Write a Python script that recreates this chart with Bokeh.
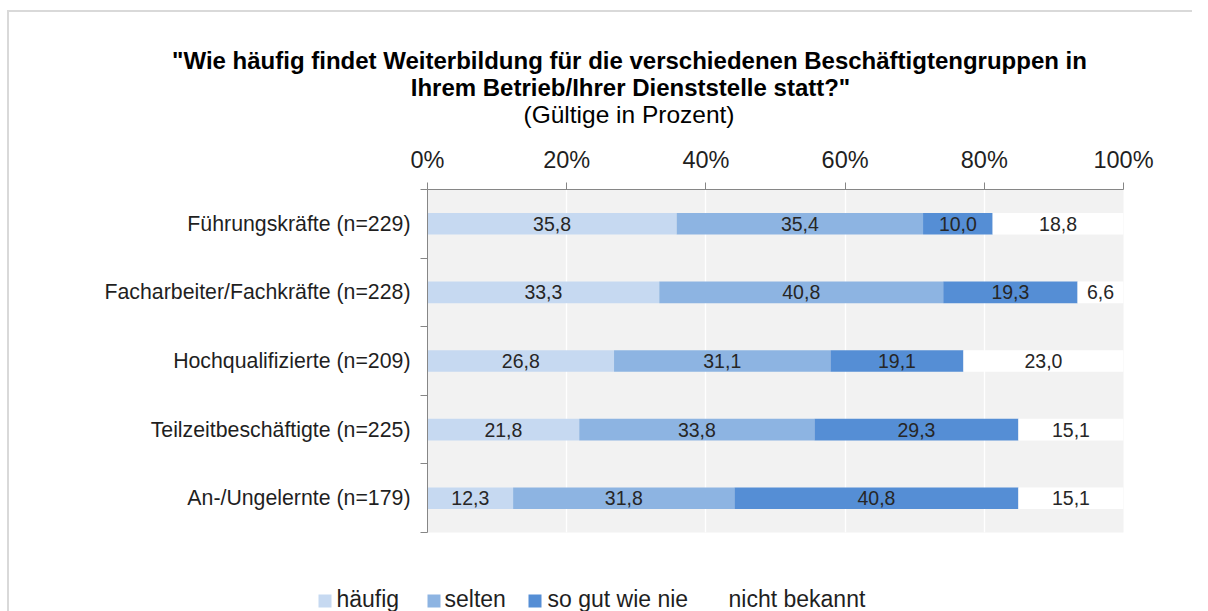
from bokeh.plotting import figure
from bokeh.layouts import column, row
from bokeh.models import Range1d, FixedTicker, PrintfTickFormatter, ColumnDataSource
from bokeh.embed import file_html
from bokeh.resources import INLINE
from bokeh.core.properties import value

# ---------------- data ----------------
categories = ["Führungskräfte (n=229)", "Facharbeiter/Fachkräfte (n=228)",
              "Hochqualifizierte (n=209)", "Teilzeitbeschäftigte (n=225)",
              "An-/Ungelernte (n=179)"]
haeufig = [35.8, 33.3, 26.8, 21.8, 12.3]
selten = [35.4, 40.8, 31.1, 33.8, 31.8]
gut_wie_nie = [10.0, 19.3, 19.1, 29.3, 40.8]
nicht_bekannt = [18.8, 6.6, 23.0, 15.1, 15.1]
series_names = ["häufig", "selten", "so gut wie nie", "nicht bekannt"]
x_ticks = [0, 20, 40, 60, 80, 100]

title_lines = ['"Wie häufig findet Weiterbildung für die verschiedenen Beschäftigtengruppen in',
               'Ihrem Betrieb/Ihrer Dienststelle statt?"']
subtitle = "(Gültige in Prozent)"

# ---------------- style ----------------
FONT = "Liberation Sans"
colors = ["#c6d9f1", "#8db4e2", "#558ed5", "#ffffff"]
text_color = "#1f1f1f"
frame_color = "#d9d9d9"
W = 1192
TITLE_H, MAIN_H, LEG_H = 140, 420, 51


def blank(width, height, xr, yr):
    f = figure(width=width, height=height, x_range=xr, y_range=yr,
               x_axis_type=None, y_axis_type=None, output_backend="svg",
               toolbar_location=None, min_border=0)
    f.outline_line_color = None
    f.grid.grid_line_color = None
    f.background_fill_color = None
    f.border_fill_color = None
    return f


# ---------------- title figure ----------------
pt = blank(W, TITLE_H, Range1d(0, W), Range1d(TITLE_H, 0))
pt.text(x=[629, 630, 628.5], y=[59.7, 87.2, 113.5], text=title_lines + [subtitle],
        text_align="center", text_baseline="middle", text_font=value(FONT),
        text_font_size=["24px", "24px", "24.5px"],
        text_font_style=["bold", "bold", "normal"], text_color="black")

# ---------------- main chart ----------------
series = [haeufig, selten, gut_wie_nie, nicht_bekannt]
ys = [i + 0.5 for i in range(len(categories))]

p = figure(width=W, height=MAIN_H, x_range=Range1d(0, 100),
           y_range=Range1d(len(categories), 0),
           x_axis_location="above", output_backend="svg", toolbar_location=None,
           min_border_left=427, min_border_right=69,
           min_border_top=49, min_border_bottom=28)
p.background_fill_color = "#f2f2f2"
p.border_fill_color = None
p.outline_line_color = None

left = [0.0] * len(categories)
for vals, col in zip(series, colors):
    right = [l + v for l, v in zip(left, vals)]
    src = ColumnDataSource(dict(
        y=ys, left=left, right=right,
        mid=[(l + r) / 2 for l, r in zip(left, right)],
        lab=[f"{v:.1f}".replace(".", ",") for v in vals]))
    p.hbar(y="y", left="left", right="right", height=0.315, source=src,
           fill_color=col, line_color=None)
    p.text(x="mid", y="y", text="lab", source=src, text_align="center",
           text_baseline="middle", text_font=value(FONT), text_font_size="19.5px",
           text_color="#262626")
    left = right

xa = p.xaxis[0]
xa.ticker = FixedTicker(ticks=x_ticks)
xa.formatter = PrintfTickFormatter(format="%d%%")
xa.major_label_text_font = FONT
xa.major_label_text_font_size = "23.5px"
xa.major_label_text_color = text_color
xa.axis_line_color = "#868686"
xa.major_tick_line_color = "#868686"
xa.major_tick_out = 7
xa.major_tick_in = 0
xa.minor_tick_line_color = None
xa.major_label_standoff = 10

ya = p.yaxis[0]
ya.ticker = FixedTicker(ticks=ys, minor_ticks=list(range(len(categories) + 1)))
ya.major_label_overrides = {y: c for y, c in zip(ys, categories)}
ya.major_label_text_font = FONT
ya.major_label_text_font_size = "21.3px"
ya.major_label_text_color = text_color
ya.axis_line_color = "#868686"
ya.major_tick_line_color = None
ya.major_tick_out = 0
ya.major_tick_in = 0
ya.minor_tick_line_color = "#868686"
ya.minor_tick_out = 7
ya.minor_tick_in = 0
ya.major_label_standoff = 10

p.xgrid.ticker = FixedTicker(ticks=x_ticks)
p.xgrid.grid_line_color = "white"
p.xgrid.grid_line_width = 1.3
p.ygrid.grid_line_color = None

# ---------------- legend figure ----------------
pl = blank(W, LEG_H, Range1d(0, W), Range1d(LEG_H, 0))
legend_glyph_x = [324.5, 433.5, 534.5, 718.5]   # square centres (layout)
legend_text_x = [336, 444, 547, 728]
pl.scatter(x=legend_glyph_x, y=[40.5] * 4, marker="square", size=13,
           fill_color=colors, line_color=None)
pl.text(x=legend_text_x, y=[38] * 4, text=series_names, text_align="left",
        text_baseline="middle", text_font=value(FONT), text_font_size="23px",
        text_color=text_color)

layout = column(pt, row(p, spacing=0), pl, spacing=0, styles={
    "background": ("linear-gradient(%s, %s) 7px 10px / 2px 100%% no-repeat, "
                   "linear-gradient(%s, %s) 7px 10px / 100%% 2px no-repeat, white")
                  % (frame_color, frame_color, frame_color, frame_color)})
open("out.html", "w").write(file_html(layout, INLINE))
